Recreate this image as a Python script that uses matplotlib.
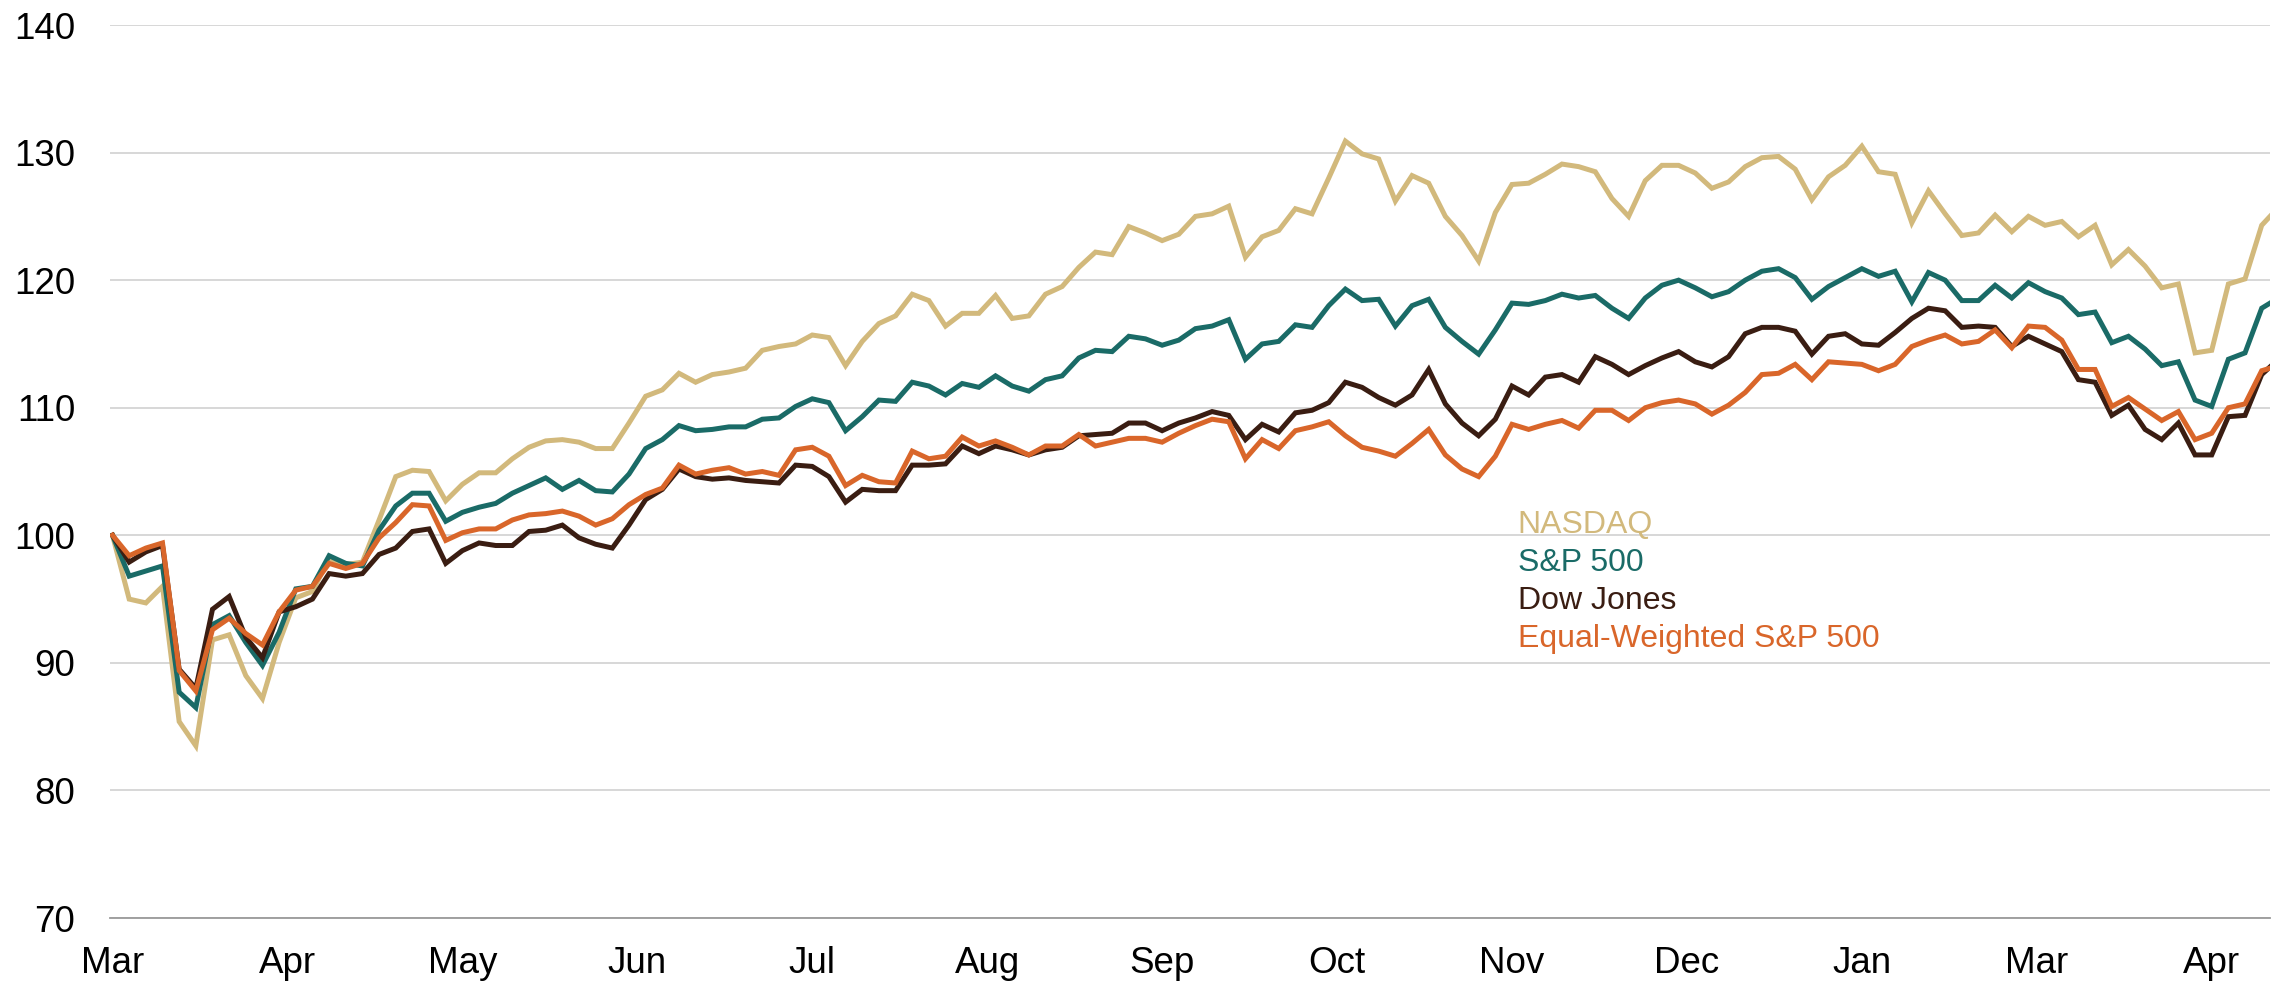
import matplotlib
matplotlib.use("Agg")
import matplotlib.pyplot as plt
import numpy as np

plt.rcParams["font.family"] = ["Liberation Sans", "DejaVu Sans"]

# trading-day index (every 2nd day, plus the last one)
days = list(range(0, 259, 2)) + [259]

nasdaq = [
    100, 95.0, 94.7, 96.0, 85.4, 83.5, 91.8, 92.2, 89.0, 87.2,
    91.6, 95.1, 95.6, 98.2, 97.7, 97.9, 101.2, 104.6, 105.1, 105.0,
    102.7, 104.0, 104.9, 104.9, 106.0, 106.9, 107.4, 107.5, 107.3, 106.8,
    106.8, 108.8, 110.9, 111.4, 112.7, 112.0, 112.6, 112.8, 113.1, 114.5,
    114.8, 115.0, 115.7, 115.5, 113.3, 115.2, 116.6, 117.2, 118.9, 118.4,
    116.4, 117.4, 117.4, 118.8, 117.0, 117.2, 118.9, 119.5, 121.0, 122.2,
    122.0, 124.2, 123.7, 123.1, 123.6, 125.0, 125.2, 125.8, 121.8, 123.4,
    123.9, 125.6, 125.2, 128.0, 130.9, 129.9, 129.5, 126.2, 128.2, 127.6,
    125.0, 123.5, 121.5, 125.3, 127.5, 127.6, 128.3, 129.1, 128.9, 128.5,
    126.4, 125.0, 127.8, 129.0, 129.0, 128.4, 127.2, 127.7, 128.9, 129.6,
    129.7, 128.7, 126.3, 128.1, 129.0, 130.5, 128.5, 128.3, 124.5, 127.0,
    125.2, 123.5, 123.7, 125.1, 123.8, 125.0, 124.3, 124.6, 123.4, 124.3,
    121.2, 122.4, 121.1, 119.4, 119.7, 114.3, 114.5, 119.7, 120.1, 124.3,
    125.0,
]

sp500 = [
    100, 96.8, 97.2, 97.6, 87.7, 86.5, 93.0, 93.7, 91.6, 89.8,
    92.4, 95.8, 96.0, 98.4, 97.8, 97.6, 100.4, 102.3, 103.3, 103.3,
    101.1, 101.8, 102.2, 102.5, 103.3, 103.9, 104.5, 103.6, 104.3, 103.5,
    103.4, 104.8, 106.8, 107.5, 108.6, 108.2, 108.3, 108.5, 108.5, 109.1,
    109.2, 110.1, 110.7, 110.4, 108.2, 109.3, 110.6, 110.5, 112.0, 111.7,
    111.0, 111.9, 111.6, 112.5, 111.7, 111.3, 112.2, 112.5, 113.9, 114.5,
    114.4, 115.6, 115.4, 114.9, 115.3, 116.2, 116.4, 116.9, 113.8, 115.0,
    115.2, 116.5, 116.3, 118.0, 119.3, 118.4, 118.5, 116.4, 118.0, 118.5,
    116.3, 115.2, 114.2, 116.1, 118.2, 118.1, 118.4, 118.9, 118.6, 118.8,
    117.8, 117.0, 118.6, 119.6, 120.0, 119.4, 118.7, 119.1, 120.0, 120.7,
    120.9, 120.2, 118.5, 119.5, 120.2, 120.9, 120.3, 120.7, 118.3, 120.6,
    120.0, 118.4, 118.4, 119.6, 118.6, 119.8, 119.1, 118.6, 117.3, 117.5,
    115.1, 115.6, 114.6, 113.3, 113.6, 110.6, 110.1, 113.8, 114.3, 117.8,
    118.2,
]

dow = [
    100, 97.9, 98.7, 99.2, 89.5, 88.0, 94.2, 95.2, 92.0, 90.4,
    94.0, 94.4, 95.0, 97.0, 96.8, 97.0, 98.5, 99.0, 100.3, 100.5,
    97.8, 98.8, 99.4, 99.2, 99.2, 100.3, 100.4, 100.8, 99.8, 99.3,
    99.0, 100.8, 102.8, 103.6, 105.2, 104.6, 104.4, 104.5, 104.3, 104.2,
    104.1, 105.5, 105.4, 104.6, 102.6, 103.6, 103.5, 103.5, 105.5, 105.5,
    105.6, 107.0, 106.4, 107.0, 106.7, 106.3, 106.7, 106.9, 107.8, 107.9,
    108.0, 108.8, 108.8, 108.2, 108.8, 109.2, 109.7, 109.4, 107.5, 108.7,
    108.1, 109.6, 109.8, 110.4, 112.0, 111.6, 110.8, 110.2, 111.0, 113.0,
    110.3, 108.8, 107.8, 109.1, 111.7, 111.0, 112.4, 112.6, 112.0, 114.0,
    113.4, 112.6, 113.3, 113.9, 114.4, 113.6, 113.2, 114.0, 115.8, 116.3,
    116.3, 116.0, 114.2, 115.6, 115.8, 115.0, 114.9, 115.9, 117.0, 117.8,
    117.6, 116.3, 116.4, 116.3, 114.8, 115.6, 115.0, 114.4, 112.2, 112.0,
    109.4, 110.2, 108.3, 107.5, 108.8, 106.3, 106.3, 109.3, 109.4, 112.6,
    113.2,
]

equal_weight = [
    100, 98.4, 99.0, 99.4, 89.4, 87.8, 92.6, 93.5, 92.3, 91.4,
    94.0, 95.7, 96.0, 97.8, 97.4, 97.8, 99.8, 101.0, 102.4, 102.3,
    99.6, 100.2, 100.5, 100.5, 101.2, 101.6, 101.7, 101.9, 101.5, 100.8,
    101.3, 102.4, 103.2, 103.7, 105.5, 104.8, 105.1, 105.3, 104.8, 105.0,
    104.7, 106.7, 106.9, 106.2, 103.9, 104.7, 104.2, 104.1, 106.6, 106.0,
    106.2, 107.7, 107.0, 107.4, 106.9, 106.3, 107.0, 107.0, 107.9, 107.0,
    107.3, 107.6, 107.6, 107.3, 108.0, 108.6, 109.1, 108.9, 106.0, 107.5,
    106.8, 108.2, 108.5, 108.9, 107.8, 106.9, 106.6, 106.2, 107.2, 108.3,
    106.3, 105.2, 104.6, 106.2, 108.7, 108.3, 108.7, 109.0, 108.4, 109.8,
    109.8, 109.0, 110.0, 110.4, 110.6, 110.3, 109.5, 110.2, 111.2, 112.6,
    112.7, 113.4, 112.2, 113.6, 113.5, 113.4, 112.9, 113.4, 114.8, 115.3,
    115.7, 115.0, 115.2, 116.1, 114.7, 116.4, 116.3, 115.3, 113.0, 113.0,
    110.1, 110.8, 109.9, 109.0, 109.7, 107.5, 108.0, 110.0, 110.3, 112.9,
    113.1,
]

month_ticks = list(range(0, 253, 21))
month_labels = ["Mar", "Apr", "May", "Jun", "Jul", "Aug", "Sep", "Oct",
                "Nov", "Dec", "Jan", "Mar", "Apr"]

names = ["NASDAQ", "S&P 500", "Dow Jones", "Equal-Weighted S&P 500"]
colors = ["#D2B97C", "#1A6B67", "#3A1D12", "#D9662A"]
series = [nasdaq, sp500, dow, equal_weight]

fig = plt.figure(figsize=(22.78, 9.85), dpi=100)
ax = fig.add_axes([0.0483, 0.068, 0.9482, 0.9066])

for vals, c in zip(series, colors):
    ax.plot(days, vals, color=c, lw=3.6, solid_joinstyle="miter")

ax.set_xlim(-0.3, 259)
ax.set_ylim(70, 140)
ax.set_yticks(np.arange(70, 141, 10))
ax.set_xticks(month_ticks)
ax.set_xticklabels(month_labels)

ax.grid(axis="y", color="#d4d4d4", lw=1.3)
ax.set_axisbelow(True)
for s in ["top", "right", "left"]:
    ax.spines[s].set_visible(False)
ax.spines["bottom"].set_color("#9a9a9a")
ax.spines["bottom"].set_linewidth(1.3)
ax.tick_params(axis="both", length=0, labelsize=26.5, colors="black")
ax.tick_params(axis="y", pad=25)
ax.tick_params(axis="x", pad=20)

# legend as coloured text
for i, (name, c) in enumerate(zip(names, colors)):
    ax.text(168.7, 100.2 - 2.98 * i, name, color=c, fontsize=23,
            va="baseline", ha="left")

fig.savefig("out.png", dpi=100)
